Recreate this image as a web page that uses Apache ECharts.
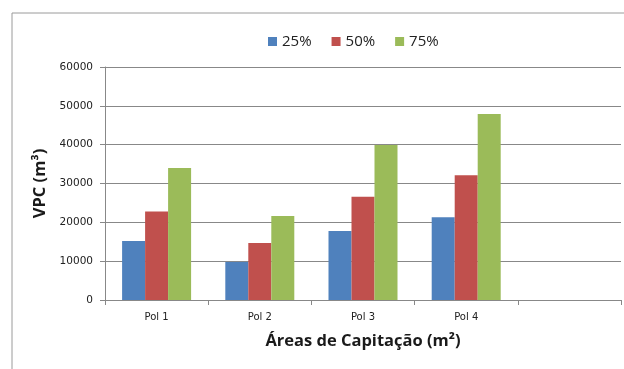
<!DOCTYPE html>
<html>
<head>
<meta charset="utf-8">
<script src="https://cdn.jsdelivr.net/npm/echarts@6/dist/echarts.min.js"></script>
<style>html,body{margin:0;padding:0;background:#fff;}#c{width:624px;height:369px;}</style>
</head>
<body>
<div id="c"></div>
<script>
const categories = ['Pol 1', 'Pol 2', 'Pol 3', 'Pol 4', ''];
const seriesNames = ['25%', '50%', '75%'];
const values25 = [15200, 9800, 17800, 21300, null];
const values50 = [22800, 14700, 26600, 32100, null];
const values75 = [34000, 21600, 39900, 47900, null];
const yTicks = { min: 0, max: 60000, interval: 10000 };

const colors = ['#4F81BD', '#C0504D', '#9BBB59'];
const font = '"Open Sans", "Noto Sans", sans-serif';
const tickFont = '"DejaVu Sans", sans-serif';
const chart = echarts.init(document.getElementById('c'), null, { renderer: 'canvas' });
const mk = (name, data, i) => ({
  name, type: 'bar', data, barWidth: 23, barGap: '0%',
  itemStyle: { color: colors[i] }, animation: false
});
chart.setOption({
  animation: false,
  textStyle: { fontFamily: font },
  graphic: [
    { type: 'polyline', shape: { points: [[12, 369], [12, 13], [624, 13]] },
      style: { stroke: '#9a9a9a', fill: null, lineWidth: 1 } }
  ],
  legend: {
    data: seriesNames, top: 29, left: 263,
    itemWidth: 9, itemHeight: 9, itemGap: 20, icon: 'rect',
    textStyle: { fontSize: 15, color: '#222', fontFamily: font }
  },
  grid: { left: 105, right: 3, top: 67, bottom: 69, containLabel: false },
  xAxis: {
    type: 'category', data: categories,
    name: 'Áreas de Capitação (m²)', nameLocation: 'middle', nameGap: 33,
    nameTextStyle: { fontSize: 16.5, fontWeight: 'bold', color: '#1a1a1a', fontFamily: font },
    axisLine: { lineStyle: { color: '#888' } },
    axisTick: { show: true, length: 5, lineStyle: { color: '#888' } },
    axisLabel: { fontSize: 10, color: '#222', margin: 12, fontFamily: tickFont }
  },
  yAxis: {
    type: 'value', min: yTicks.min, max: yTicks.max, interval: yTicks.interval,
    name: 'VPC (m³)', nameLocation: 'middle', nameGap: 56, nameRotate: 90,
    nameTextStyle: { fontSize: 16.5, fontWeight: 'bold', color: '#1a1a1a', fontFamily: font },
    axisLine: { show: true, lineStyle: { color: '#888' } },
    axisTick: { show: true, length: 5, lineStyle: { color: '#888' } },
    axisLabel: { fontSize: 10.5, color: '#222', margin: 12, fontFamily: tickFont,
                 formatter: v => String(v) },
    splitLine: { lineStyle: { color: '#888', width: 1 } }
  },
  series: [mk(seriesNames[0], values25, 0), mk(seriesNames[1], values50, 1), mk(seriesNames[2], values75, 2)]
});
</script>
</body>
</html>
